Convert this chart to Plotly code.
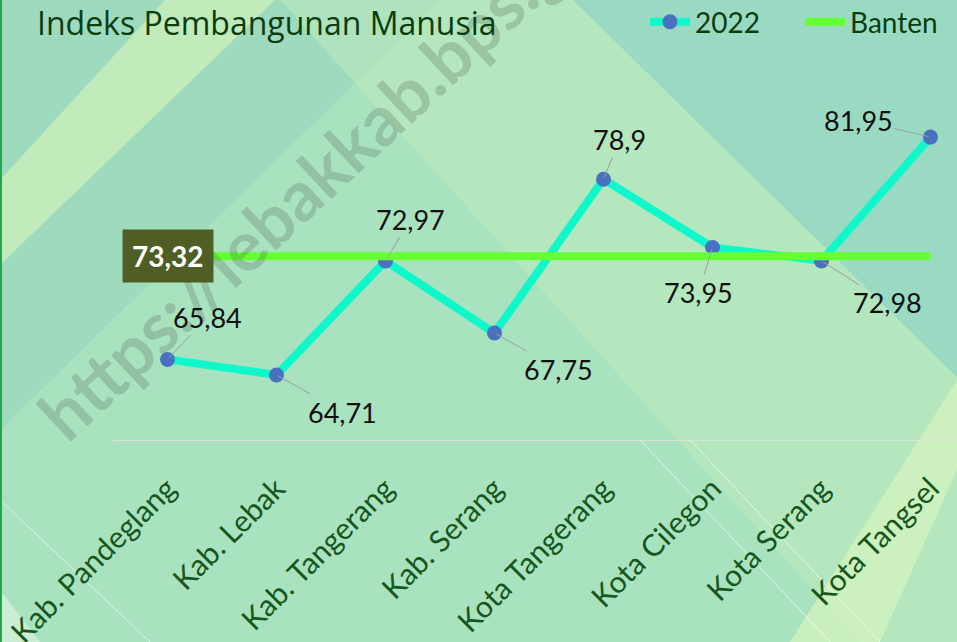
import plotly.graph_objects as go

# ---------------- data ----------------
categories = ["Kab. Pandeglang", "Kab. Lebak", "Kab. Tangerang", "Kab. Serang",
              "Kota Tangerang", "Kota Cilegon", "Kota Serang", "Kota Tangsel"]
ipm_2022 = [65.84, 64.71, 72.97, 67.75, 78.9, 73.95, 72.98, 81.95]
banten_value = 73.32
banten = [banten_value] * len(categories)
series_names = ["2022", "Banten"]
title_text = "Indeks Pembangunan Manusia"
watermark_text = "https://lebakkab.bps.go.id"

# label offsets (pixels, relative to the point) - styling only
label_offsets = [(40, -42), (66, 37), (25, -42), (64, 36),
                 (16, -40), (-14, 45), (66, 42), (-72, -17)]

# ---------------- geometry helpers ----------------
W, H = 957, 642
L, R, T, B = 113, 0, 95, 202
PW, PH = W - L - R, H - T - B


def px(x):
    return (x - L) / PW


def py(y):
    return (H - B - y) / PH


def poly(points):
    return "M " + " L ".join(f"{px(a):.4f},{py(b):.4f}" for a, b in points) + " Z"


def fmt(v):
    return f"{v:g}".replace(".", ",")


FONT = "Lato, 'Open Sans', sans-serif"

fig = go.Figure()
fig.add_trace(go.Scatter(
    x=categories, y=ipm_2022, name=series_names[0], mode="lines+markers",
    line=dict(color="#0EF8CC", width=8),
    marker=dict(color="#4A70C0", size=15, line=dict(width=0)),
))
fig.add_trace(go.Scatter(
    x=categories, y=banten, name=series_names[1], mode="lines",
    line=dict(color="#66FF33", width=8),
))

# background decorations
shapes = []
shapes.append(dict(type="path", xref="paper", yref="paper", layer="below", line_width=0,
                   fillcolor="rgba(150,212,190,0.55)",
                   path=poly([(0, 0), (440, 0), (0, 430)])))
shapes.append(dict(type="path", xref="paper", yref="paper", layer="below", line_width=0,
                   fillcolor="rgba(205,240,185,0.75)",
                   path=poly([(0, 180), (165, 0), (275, 0), (0, 265)])))
shapes.append(dict(type="path", xref="paper", yref="paper", layer="below", line_width=0,
                   fillcolor="rgba(190,235,190,0.55)",
                   path=poly([(280, 0), (573, 0), (957, 377), (957, 642), (860, 642)])))
shapes.append(dict(type="path", xref="paper", yref="paper", layer="below", line_width=0,
                   fillcolor="rgba(150,215,195,0.75)",
                   path=poly([(573, 0), (957, 0), (957, 377)])))
shapes.append(dict(type="path", xref="paper", yref="paper", layer="below", line_width=0,
                   fillcolor="rgba(210,242,190,0.8)",
                   path=poly([(957, 380), (957, 470), (880, 642), (790, 642)])))
shapes.append(dict(type="path", xref="paper", yref="paper", layer="below", line_width=0,
                   fillcolor="rgba(225,245,225,0.6)",
                   path=poly([(0, 590), (0, 642), (40, 642)])))
for (x0, y0, x1, y1) in [(0, 500, 150, 642), (640, 440, 830, 642), (690, 440, 880, 642)]:
    shapes.append(dict(type="line", xref="paper", yref="paper", layer="below",
                       x0=px(x0), y0=py(y0), x1=px(x1), y1=py(y1),
                       line=dict(color="rgba(255,255,255,0.6)", width=1)))
shapes.append(dict(type="line", xref="paper", yref="paper",
                   x0=px(1), y0=py(0), x1=px(1), y1=py(642),
                   line=dict(color="#22A84A", width=2)))

annotations = []
# watermark
annotations.append(dict(
    text=f"<b>{watermark_text}</b>", xref="paper", yref="paper",
    x=px(342), y=py(152), xanchor="center", yanchor="middle",
    showarrow=False, textangle=-43,
    font=dict(family=FONT, size=70, color="rgba(60,70,60,0.21)"),
))
# data labels
for i, (cat, v) in enumerate(zip(categories, ipm_2022)):
    ax, ay = label_offsets[i]
    annotations.append(dict(
        x=cat, y=v, text=fmt(v), showarrow=True, ax=ax, ay=ay,
        arrowhead=0, arrowwidth=1, arrowcolor="#9E9E9E", standoff=2,
        font=dict(family=FONT, size=27, color="#111111"),
    ))
# Banten value box
annotations.append(dict(
    x=categories[0], y=banten_value, text=f"<b>{fmt(banten_value)}</b>",
    showarrow=False, bgcolor="#4E5E24", borderpad=9,
    font=dict(family=FONT, size=28, color="white"),
))
# title
annotations.append(dict(
    text=title_text, xref="paper", yref="paper", x=px(36), y=py(0),
    xanchor="left", yanchor="top", showarrow=False, borderpad=0,
    font=dict(family="'Open Sans', sans-serif", size=32, color="#0B3D0E"),
))

fig.update_layout(
    width=W, height=H,
    margin=dict(l=L, r=R, t=T, b=B, autoexpand=False),
    paper_bgcolor="#A9E2BF",
    plot_bgcolor="rgba(0,0,0,0)",
    shapes=shapes,
    annotations=annotations,
    showlegend=True,
    legend=dict(orientation="h", x=px(645), xanchor="left", y=py(22), yanchor="middle",
                font=dict(family=FONT, size=28, color="#0B3D0E"),
                bgcolor="rgba(0,0,0,0)", itemwidth=40, tracegroupgap=0,
                entrywidth=100, entrywidthmode="pixels"),
    xaxis=dict(range=[-0.5, -0.5 + PW / 109], showgrid=False, zeroline=False,
               showline=True, linecolor="rgba(225,225,225,0.9)", linewidth=1,
               ticks="", tickangle=-45, ticklabelstandoff=18,
               tickfont=dict(family=FONT, size=30, color="#17561C")),
    yaxis=dict(range=[60, 85], visible=False),
)

fig.write_html("out.html", config={"displayModeBar": False},
               post_script="document.body.style.margin='0';document.body.style.overflow='hidden';")
